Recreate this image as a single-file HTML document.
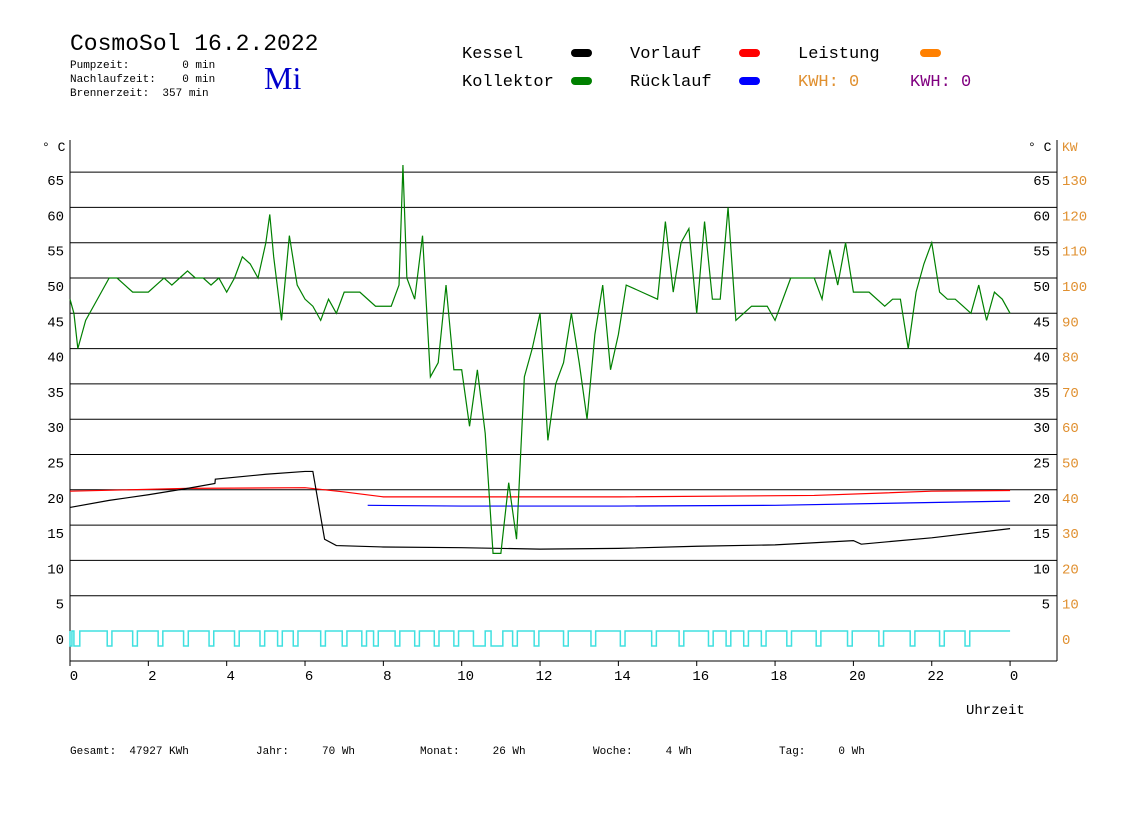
<!DOCTYPE html>
<html><head><meta charset="utf-8"><style>
body{margin:0;background:#fff;}
svg text{font-family:"Liberation Mono","DejaVu Sans Mono",monospace;}
</style></head><body>
<svg id="c" width="1148" height="812" viewBox="0 0 1148 812" xmlns="http://www.w3.org/2000/svg">
<g>
<text x="70" y="50" font-size="23" fill="#000">CosmoSol 16.2.2022</text>
<text x="70" y="68" font-size="11" xml:space="preserve">Pumpzeit:        0 min</text>
<text x="70" y="82" font-size="11" xml:space="preserve">Nachlaufzeit:    0 min</text>
<text x="70" y="96" font-size="11" xml:space="preserve">Brennerzeit:  357 min</text>
<text x="264" y="89" font-size="32" fill="#0000cc" style="font-family:'Liberation Serif',serif">Mi</text>
</g>
<g font-size="17">
<text x="462" y="58">Kessel</text>
<rect x="571" y="49" width="21" height="8" rx="4" fill="#000"/>
<text x="462" y="86">Kollektor</text>
<rect x="571" y="77" width="21" height="8" rx="4" fill="#008000"/>
<text x="630" y="58">Vorlauf</text>
<rect x="739" y="49" width="21" height="8" rx="4" fill="#ff0000"/>
<text x="630" y="86">Rücklauf</text>
<rect x="739" y="77" width="21" height="8" rx="4" fill="#0000ff"/>
<text x="798" y="58">Leistung</text>
<rect x="920" y="49" width="21" height="8" rx="4" fill="#ff8000"/>
<text x="798" y="86" fill="#e09030">KWH: 0</text>
<text x="910" y="86" fill="#800080">KWH: 0</text>
</g>
<g id="grid"></g>
<g id="axes"></g>
<g id="series"></g>
<text x="966" y="714" font-size="14">Uhrzeit</text>
<g font-size="11">
<text x="70" y="754" xml:space="preserve">Gesamt:  47927 KWh</text>
<text x="256" y="754" xml:space="preserve">Jahr:     70 Wh</text>
<text x="420" y="754" xml:space="preserve">Monat:     26 Wh</text>
<text x="593" y="754" xml:space="preserve">Woche:     4 Wh</text>
<text x="779" y="754" xml:space="preserve">Tag:     0 Wh</text>
</g>
</svg>
<script>
const xTicks=[0,2,4,6,8,10,12,14,16,18,20,22,24];
const xTickLabels=["0","2","4","6","8","10","12","14","16","18","20","22","0"];
const yTicks=[0,5,10,15,20,25,30,35,40,45,50,55,60,65];
const kwLabels=["0","10","20","30","40","50","60","70","80","90","100","110","120","130"];
const kollT=[0,0.1,0.2,0.3,0.4,0.6,0.8,1,1.2,1.4,1.6,1.8,2,2.2,2.4,2.6,2.8,3,3.2,3.4,3.6,3.8,4,4.2,4.4,4.6,4.8,5,5.1,5.2,5.4,5.6,5.8,6,6.2,6.4,6.6,6.8,7,7.4,7.8,8,8.2,8.4,8.5,8.6,8.8,9,9.1,9.2,9.4,9.6,9.8,10,10.2,10.4,10.6,10.8,11,11.2,11.4,11.6,11.8,12,12.2,12.4,12.6,12.8,13,13.2,13.4,13.6,13.8,14,14.2,14.6,15,15.2,15.4,15.6,15.8,16,16.2,16.4,16.6,16.8,17,17.4,17.8,18,18.4,18.8,19,19.2,19.4,19.6,19.8,20,20.4,20.8,21,21.2,21.4,21.6,21.8,22,22.2,22.4,22.6,22.8,23,23.2,23.4,23.6,23.8,24];
const kollV=[47,45,40,42,44,46,48,50,50,49,48,48,48,49,50,49,50,51,50,50,49,50,48,50,53,52,50,55,59,53,44,56,49,47,46,44,47,45,48,48,46,46,46,49,66,50,47,56,46,36,38,49,37,37,29,37,28,11,11,21,13,36,40,45,27,35,38,45,38,30,42,49,37,42,49,48,47,58,48,55,57,45,58,47,47,60,44,46,46,44,50,50,50,47,54,49,55,48,48,46,47,47,40,48,52,55,48,47,47,46,45,49,44,48,47,45];
const kesT=[0,1,2,3,3.7,3.71,5,6,6.2,6.5,6.8,8,10,12,14,16,18,20,20.2,22,24];
const kesV=[17.5,18.5,19.3,20.2,20.9,21.5,22.2,22.6,22.6,13,12.1,11.9,11.8,11.6,11.7,12.0,12.2,12.8,12.3,13.2,14.5];
const vorT=[0,3,6,7,8,14,19,22,24];
const vorV=[19.8,20.2,20.3,19.7,19,19,19.2,19.8,19.9];
const rueT=[7.6,10,14,18,22,24];
const rueV=[17.8,17.7,17.7,17.8,18.2,18.4];
const pulseStart=[0,0.1,0.95,1.6,2.25,2.9,3.55,4.2,4.85,5.3,5.7,6.4,6.95,7.45,7.75,8.3,8.8,9.3,9.8,10.3,10.75,11.3,11.85,12.6,13.3,14.05,14.85,15.55,16.3,16.75,17.2,17.65,18.3,19.05,19.85,20.65,21.45,22.2,22.85];
const pulseWidth=[0.05,0.15,0.12,0.12,0.12,0.12,0.12,0.12,0.12,0.12,0.12,0.12,0.12,0.12,0.12,0.12,0.12,0.12,0.12,0.3,0.3,0.12,0.12,0.12,0.12,0.12,0.12,0.12,0.12,0.12,0.12,0.12,0.12,0.12,0.12,0.12,0.12,0.12,0.12];
const NS="http://www.w3.org/2000/svg";
const X=h=>70+h*39.17, Y=v=>631-v*7.06;
function mk(tag,attrs,parent){const e=document.createElementNS(NS,tag);for(const k in attrs)e.setAttribute(k,attrs[k]);parent.appendChild(e);return e;}
const grid=document.getElementById('grid'),axes=document.getElementById('axes'),ser=document.getElementById('series');
yTicks.forEach((v,i)=>{
 if(v>0){const l=mk('line',{x1:70,x2:1057,y1:Y(v),y2:Y(v),stroke:'#000','stroke-width':1},grid);
 
 }
 const t=mk('text',{x:64,y:Y(v)+13,'font-size':14,'text-anchor':'end'},axes);t.textContent=v;
 
 
 if(v>0){const t2=mk('text',{x:1050,y:Y(v)+13,'font-size':14,'text-anchor':'end'},axes);t2.textContent=v;
 
 }
 const t3=mk('text',{x:1062,y:Y(v)+13,'font-size':14,fill:'#e09030'},axes);t3.textContent=kwLabels[i];
 
 
});
[[70,140,70,661],[1057,140,1057,661],[70,661,1057,661]].forEach(a=>{const l=mk('line',{x1:a[0],y1:a[1],x2:a[2],y2:a[3],stroke:'#000'},axes);
 
 });
[[42,'° C','#000'],[1028,'° C','#000'],[1062,'KW','#e09030']].forEach(a=>{const t=mk('text',{x:a[0],y:151,'font-size':13,fill:a[2]},axes);t.textContent=a[1];
 
 });
xTicks.forEach((h,i)=>{const l=mk('line',{x1:X(h),x2:X(h),y1:661,y2:666,stroke:'#000'},axes);
 
 
 const t=mk('text',{x:X(h)+4,y:680,'font-size':14,'text-anchor':'middle'},axes);t.textContent=xTickLabels[i];
 
 });
function line(T,V,color,name){const p=mk('polyline',{points:T.map((t,i)=>X(t)+','+Y(V[i])).join(' '),fill:'none',stroke:color,'stroke-width':1.2},ser);
 
 }
line(vorT,vorV,'#ff0000','vorlauf-line');
line(rueT,rueV,'#0000ff','ruecklauf-line');
line(kesT,kesV,'#000','kessel-line');
line(kollT,kollV,'#008000','kollektor-line');
let pts=[];const base=631,low=646;
pts.push(X(0)+','+base);
pulseStart.forEach((s,i)=>{const a=X(s),b=X(s+pulseWidth[i]);pts.push(a+','+base,a+','+low,b+','+low,b+','+base);});
pts.push(X(24)+','+base);
const pp=mk('polyline',{points:pts.join(' '),fill:'none',stroke:'#40e0e0','stroke-width':1.5},ser);


</script>
</body></html>
